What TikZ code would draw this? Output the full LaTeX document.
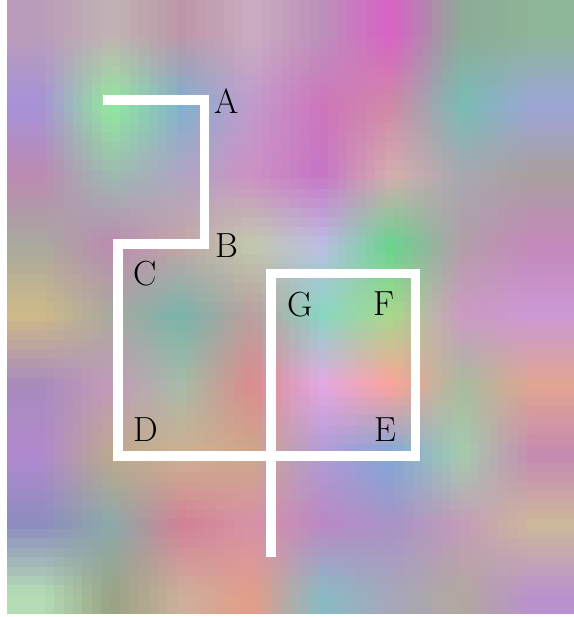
\documentclass[tikz,border=0pt]{standalone}
\usepackage{tikz}
% colour from six hex digits, with its saturation raised a little
\def\defg#1#2#3#4#5#6#7{%
  \pgfmathsetmacro{\cR}{0x#2#3/255}%
  \pgfmathsetmacro{\cG}{0x#4#5/255}%
  \pgfmathsetmacro{\cB}{0x#6#7/255}%
  \pgfmathsetmacro{\cM}{(\cR+\cG+\cB)/3}%
  \pgfmathsetmacro{\cR}{min(max(\cM+1.25*(\cR-\cM),0),1)}%
  \pgfmathsetmacro{\cG}{min(max(\cM+1.25*(\cG-\cM),0),1)}%
  \pgfmathsetmacro{\cB}{min(max(\cM+1.25*(\cB-\cM),0),1)}%
  \edef\tmpdef{\noexpand\definecolor{#1}{rgb}{\cR,\cG,\cB}}\tmpdef}
% coarse colour grid of the background (columns i=0..7, rows j=0..8)
\def\gridrow#1#2#3#4#5#6#7#8#9{%
  \defg{g0x#1}#2\defg{g1x#1}#3\defg{g2x#1}#4\defg{g3x#1}#5%
  \defg{g4x#1}#6\defg{g5x#1}#7\defg{g6x#1}#8\gridrowtail{#1}{#9}}
\def\gridrowtail#1#2#3{\defg{g7x#1}#2}
\gridrow{0}{B8A0B8}{C0B4B4}{B89AA8}{C8B0C0}{B896B8}{D070C0}{90A898}{90B098}{}
\gridrow{1}{A898D0}{98E0A0}{88B0C8}{C0A0C8}{C880B8}{C890A8}{80B8B0}{A0A8D0}{}
\gridrow{2}{B890B0}{A0B8B0}{B0A8C0}{C898C0}{C080C0}{D0B0B0}{A8A8B0}{A8A0A0}{}
\gridrow{3}{A8A8A0}{B890B0}{C0A8A8}{C0C8B0}{C0C0E0}{70C890}{B0A0A8}{C090B8}{}
\gridrow{4}{C8B890}{A8A8A0}{80B0A8}{B8A0A0}{90D0C0}{A8D090}{C8A0C0}{C8A0D0}{}
\gridrow{5}{A890B8}{C0A0B8}{A8B8A8}{D09090}{E0B0E0}{F0A8A0}{A8B8A0}{D8A898}{}
\gridrow{6}{B090C8}{B8A890}{C8B098}{C8A890}{B0A0D0}{88A8D0}{A8C8B0}{C090B0}{}
\gridrow{7}{9090B8}{90A8A8}{C88898}{D098A8}{B890C0}{A898C0}{C0A0B8}{C8B8A0}{}
\gridrow{8}{B8D8B8}{98A088}{C8B0A0}{D8A090}{90B8C0}{A8A8B8}{B0A8A0}{B898C8}{}
\tikzset{
  wall/.style={draw=white, line width=9.5bp, line join=miter, line cap=butt},
  lbl/.style={inner sep=0pt, anchor=center, font=\fontsize{35}{40}\selectfont}
}
\begin{document}
\begin{tikzpicture}[x=1bp, y=-1bp]
\useasboundingbox (0,0) rectangle (574,617);
% background mosaic
\foreach \i in {0,...,59} {
  \foreach \j in {0,...,64} {
    \pgfmathsetmacro{\px}{7+9.45*(\i+0.5)}
    \pgfmathsetmacro{\py}{9.446*(\j+0.5)}
    \pgfmathsetmacro{\u}{min(max((\px-42)/70,0),7)}
    \pgfmathtruncatemacro{\ia}{min(floor(\u),6)}
    \pgfmathtruncatemacro{\ib}{\ia+1}
    \pgfmathtruncatemacro{\fx}{round(100*(1-(\u-\ia)))}
    \pgfmathsetmacro{\v}{min(max((\py-35)/70,0),8)}
    \pgfmathtruncatemacro{\ja}{min(floor(\v),7)}
    \pgfmathtruncatemacro{\jb}{\ja+1}
    \pgfmathtruncatemacro{\fy}{round(100*(1-(\v-\ja)))}
    \colorlet{ctop}{g\ia x\ja!\fx!g\ib x\ja}
    \colorlet{cbot}{g\ia x\jb!\fx!g\ib x\jb}
    \fill[ctop!\fy!cbot] (\px-4.9,\py-4.9) rectangle (\px+4.9,\py+4.9);
  }
}
% clip overhang to the coloured area
\fill[white] (0,0) rectangle (7,617);
\fill[white] (0,614) rectangle (574,617);
% corner points of the walls
\coordinate (s)  at (103,100);
\coordinate (a)  at (204.5,100);
\coordinate (b)  at (204.5,244);
\coordinate (c)  at (118,244);
\coordinate (d)  at (118,456);
\coordinate (e)  at (415.5,456);
\coordinate (f)  at (415.5,273.5);
\coordinate (g)  at (271,273.5);
\coordinate (t)  at (271,557);
\draw[wall] (s) -- (a) -- (b) -- (c) -- (d) -- (e) -- (f) -- (g) -- (t);
% labels
\node[lbl] (lA) at (227,101.5) {A};
\node[lbl] (lB) at (227,246) {B};
\node[lbl] (lC) at (145,274) {C};
\node[lbl] (lD) at (146,430) {D};
\node[lbl] (lG) at (300,305) {G};
\node[lbl] (lF) at (384,304) {F};
\node[lbl] (lE) at (385,430) {E};
\end{tikzpicture}
\end{document}
